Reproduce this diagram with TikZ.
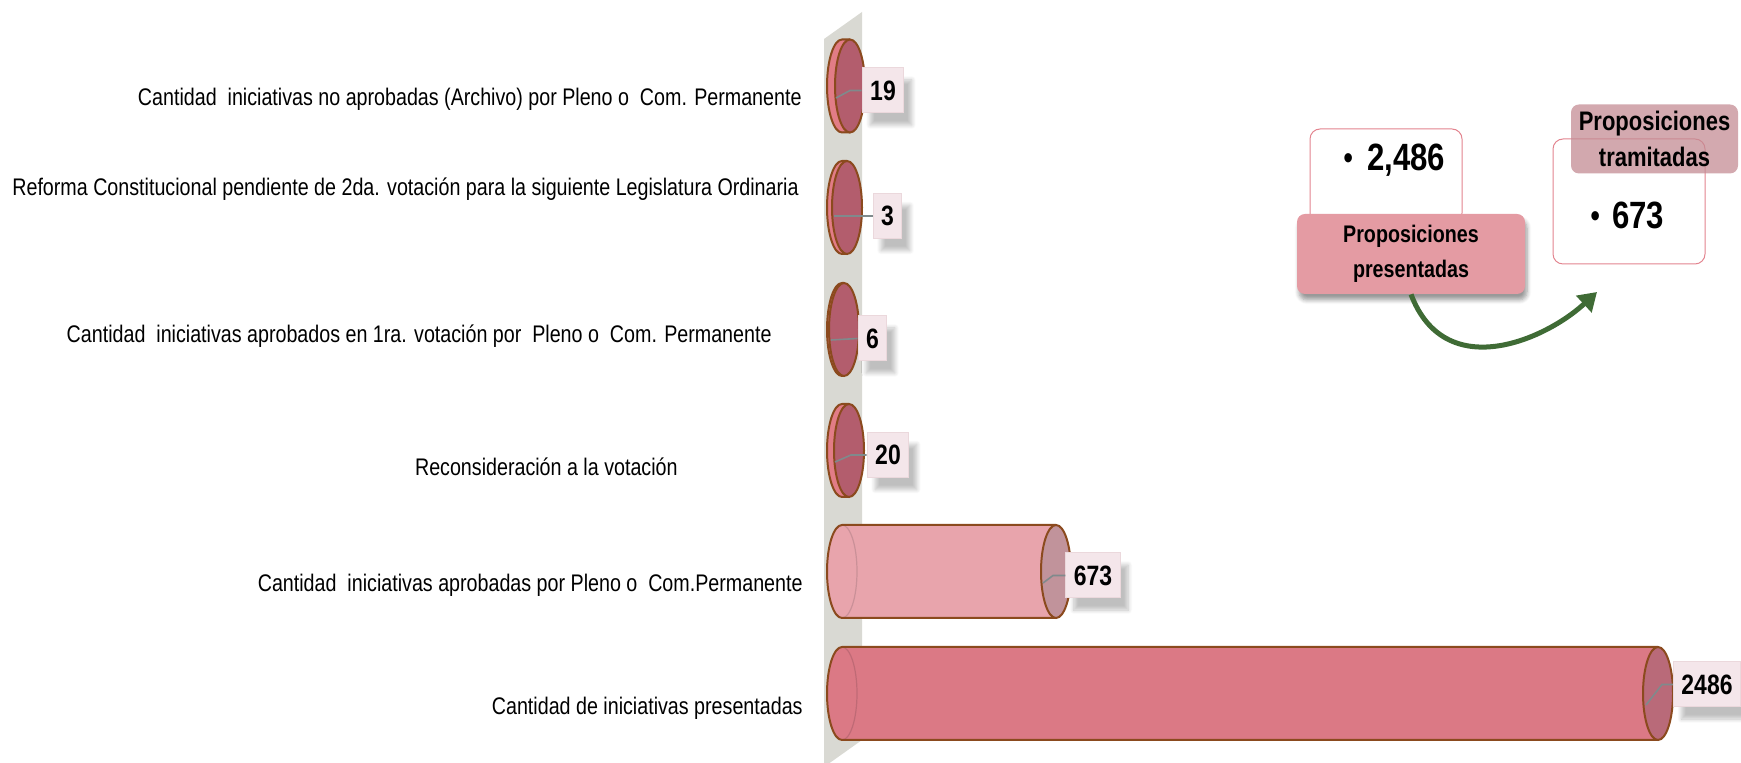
\documentclass[tikz,border=0pt]{standalone}
\usepackage{fontspec}
\setmainfont{Liberation Sans}[FakeStretch=0.82]
\usetikzlibrary{shadows.blur,arrows.meta,calc}
\definecolor{wallc}{HTML}{D9D9D3}
\definecolor{brownc}{HTML}{8B4A1E}
\definecolor{rimc}{HTML}{E27C86}
\definecolor{facec}{HTML}{B35D6D}
\definecolor{barA}{HTML}{E8A4AC}
\definecolor{barAcap}{HTML}{C1939B}
\definecolor{barB}{HTML}{DB7985}
\definecolor{barBcap}{HTML}{B96A79}
\definecolor{valfill}{HTML}{F4E6EA}
\definecolor{valline}{HTML}{EBD8DC}
\definecolor{leaderc}{HTML}{7F8A8C}
\definecolor{boxline}{HTML}{E3848F}
\definecolor{presfill}{HTML}{E49BA3}
\definecolor{tramfill}{HTML}{C48C94}
\definecolor{greenc}{HTML}{3F6B35}
\newcommand\mycyl[6]{% x0 x1 cy body cap rx
  \fill[#4] (#1,#3-46.5) -- (#2,#3-46.5) -- (#2,#3+46.5) -- (#1,#3+46.5)
     arc[start angle=90,end angle=270,x radius=#6,y radius=46.5] -- cycle;
  \draw[#5!60!black,opacity=0.25,line width=0.6pt] (#1,#3-46.5)
     arc[start angle=-90,end angle=90,x radius=#6,y radius=46.5];
  \draw[brownc,line width=1pt] (#2,#3-46.5) -- (#1,#3-46.5)
     arc[start angle=270,end angle=90,x radius=#6,y radius=46.5] -- (#2,#3+46.5);
  \filldraw[fill=#5,draw=brownc,line width=1pt] (#2,#3) ellipse[x radius=#6,y radius=46.5];
}
\newcommand\mybul[1]{{\mdseries\fontsize{17}{17}\selectfont\raisebox{0.05ex}{•}}\hspace{#1}}
\tikzset{
  lab/.style={anchor=east,inner sep=0pt,font=\fontsize{12}{14}\selectfont},
  valbox/.style={fill=valfill,draw=valline,line width=0.5pt,inner xsep=4pt,minimum height=22.5pt,
     font=\bfseries\fontsize{14}{16}\selectfont,
     blur shadow={shadow xshift=4pt,shadow yshift=-6pt,shadow opacity=25,shadow blur steps=8}},
  leader/.style={leaderc,line width=0.8pt},
  whitebox/.style={draw=boxline,fill=white,rounded corners=5pt,line width=0.5pt},
  bigval/.style={anchor=west,font=\bfseries\fontsize{19}{22}\selectfont,inner sep=0pt},
  presbox/.style={fill=presfill,rounded corners=4pt,align=center,
     font=\bfseries\fontsize{12}{17.5}\selectfont,
     blur shadow={shadow xshift=1pt,shadow yshift=-3pt,shadow opacity=40,shadow blur steps=6}},
  trambox/.style={fill=tramfill,fill opacity=0.75,text opacity=1,rounded corners=4pt,align=center,
     font=\bfseries\fontsize{13.4}{18}\selectfont},
}
\begin{document}
\begin{tikzpicture}[x=0.5pt,y=-0.5pt]
\useasboundingbox (0,0) rectangle (1741,763);
% wall
\fill[wallc] (824,39) -- (862,12) -- (862,740) -- (824,767) -- cycle;
% cylinders
\mycyl{842}{850}{86}{rimc}{facec}{15}
\mycyl{842}{847}{207.5}{rimc}{facec}{15}
\mycyl{842}{844}{329.5}{rimc}{facec}{15}
\mycyl{842}{849}{450.5}{rimc}{facec}{15}
\mycyl{842}{1056}{571.5}{barA}{barAcap}{15}
\mycyl{842}{1658}{693.5}{barB}{barBcap}{15}
% value boxes
\node[valbox] (v19) at (883,90.5) {19};
\node[valbox] (v3) at (887.5,216) {3};
\node[valbox] (v6) at (872.5,338.5) {6};
\node[valbox] (v20) at (888,455) {20};
\node[valbox] (v673) at (1093,575.5) {673};
\node[valbox] (v2486) at (1707,684.5) {2486};
% leaders
\coordinate (a19) at (836,98);
\draw[leader] (a19) -- (850,90.5) -- (v19.west);
\coordinate (a3) at (834,216);
\draw[leader] (a3) -- (v3.west);
\coordinate (a6) at (831,340);
\draw[leader] (a6) -- (v6.west);
\coordinate (a20) at (835,462);
\draw[leader] (a20) -- (851,455) -- (v20.west);
\coordinate (a673) at (1043,583);
\draw[leader] (a673) -- (1053,575.5) -- (v673.west);
\coordinate (a2486) at (1646,705);
\draw[leader] (a2486) -- (1662,684.5) -- (v2486.west);
% left labels
\node[lab] (l1) at (802,99) {Cantidad\ \ iniciativas no aprobadas (Archivo) por Pleno o\ \ Com. Permanente};
\node[lab] (l2) at (799,189) {Reforma Constitucional pendiente de 2da. votación para la siguiente Legislatura Ordinaria};
\node[lab] (l3) at (772,336) {Cantidad\ \ iniciativas aprobados en 1ra. votación por\ \ Pleno o\ \ Com. Permanente};
\node[lab] (l4) at (678,467) {Reconsideración a la votación};
\node[lab] (l5) at (803,585) {Cantidad\ \ iniciativas aprobadas por Pleno o\ \ Com.Permanente};
\node[lab] (l6) at (803,708) {Cantidad de iniciativas presentadas};
% right panel
\node[whitebox,minimum width=76pt,minimum height=47pt] (b2486) at (1386,176) {};
\node[bigval] (t2486) at (1343,160) {\mybul{7pt}2,486};
\node[whitebox,minimum width=76pt,minimum height=62.5pt] (b673) at (1629,201.5) {};
\node[bigval] (t673) at (1590,215) {\mybul{6pt}673};
\node[presbox,minimum width=114pt,minimum height=40pt] (pres) at (1411,254) {Proposiciones\\presentadas};
\node[trambox,minimum width=83.5pt,minimum height=33pt] (tram) at (1654.5,139) {Proposiciones\\tramitadas};
\coordinate (arrEnd) at (1597,292);
\draw[greenc,line width=2.5pt,-{Triangle[length=9pt,width=11pt]}] (pres.south) .. controls (1445,384) and (1545,340) .. (arrEnd);
\end{tikzpicture}
\end{document}
